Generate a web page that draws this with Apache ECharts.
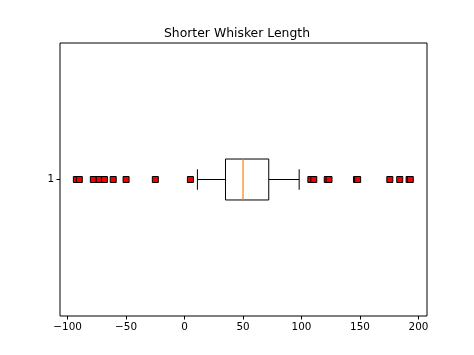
<!DOCTYPE html>
<html>
<head>
<meta charset="utf-8">
<script src="https://cdn.jsdelivr.net/npm/echarts@6/dist/echarts.min.js"></script>
<style>
  html, body { margin: 0; padding: 0; background: #fff; }
  #chart { width: 474px; height: 355px; }
</style>
</head>
<body>
<div id="chart"></div>
<script>
// categories and values
var categories = ["1"];
// [low whisker, Q1, median, Q3, high whisker]
var boxStats = [[11, 35, 50, 72, 98]];
var outliers = [-92.5, -90, -78, -73, -68.5, -61, -50, -25, 5,
                108, 110.5, 122, 123.5, 147, 148, 175.5, 184, 192, 193];
var xTicks = [-100, -50, 0, 50, 100, 150, 200];

var chart = echarts.init(document.getElementById("chart"));

var outlierData = outliers.map(function (v) { return [v, categories[0]]; });

var option = {
  animation: false,
  title: {
    text: "Shorter Whisker Length",
    left: "center",
    top: 23,
    textStyle: { fontFamily: "DejaVu Sans", fontSize: 12.4, fontWeight: "normal", color: "#000" }
  },
  grid: {
    left: 60, right: 47, top: 43, bottom: 39,
    show: true, borderColor: "#000", borderWidth: 1, backgroundColor: "#fff"
  },
  xAxis: {
    type: "value",
    min: -106.5,
    max: 207.3,
    splitLine: { show: false },
    axisLine: { show: false, onZero: false },
    axisTick: { show: true, length: 3.5, inside: false, lineStyle: { color: "#000" }, customValues: xTicks },
    axisLabel: {
      color: "#000", fontFamily: "DejaVu Sans", fontSize: 10.4, margin: 6,
      customValues: xTicks,
      formatter: function (v) { return v < 0 ? "\u2212" + Math.abs(v) : String(v); }
    }
  },
  yAxis: {
    type: "category",
    data: categories,
    position: "left",
    boundaryGap: true,
    axisLine: { show: false, onZero: false },
    axisTick: { show: true, alignWithLabel: true, length: 3.5, lineStyle: { color: "#000" } },
    axisLabel: { color: "#000", fontFamily: "DejaVu Sans", fontSize: 10.4, margin: 6 },
    splitLine: { show: false }
  },
  series: [
    {
      type: "custom",
      data: boxStats.map(function (s, i) { return [i].concat(s); }),
      renderItem: function (params, api) {
        var cat = categories[api.value(0)];
        var lo = api.coord([api.value(1), cat]);
        var q1 = api.coord([api.value(2), cat]);
        var med = api.coord([api.value(3), cat]);
        var q3 = api.coord([api.value(4), cat]);
        var hi = api.coord([api.value(5), cat]);
        var band = api.size([0, 1])[1];
        var h = band * 0.15;
        var cy = q1[1];
        var black = { stroke: "#000", lineWidth: 1, fill: null };
        return {
          type: "group",
          children: [
            { type: "rect", shape: { x: q1[0], y: cy - h / 2, width: q3[0] - q1[0], height: h }, style: { stroke: "#000", lineWidth: 1, fill: "none" } },
            { type: "line", shape: { x1: lo[0], y1: cy, x2: q1[0], y2: cy }, style: black },
            { type: "line", shape: { x1: q3[0], y1: cy, x2: hi[0], y2: cy }, style: black },
            { type: "line", shape: { x1: lo[0], y1: cy - h / 4, x2: lo[0], y2: cy + h / 4 }, style: black },
            { type: "line", shape: { x1: hi[0], y1: cy - h / 4, x2: hi[0], y2: cy + h / 4 }, style: black },
            { type: "line", shape: { x1: med[0], y1: cy - h / 2, x2: med[0], y2: cy + h / 2 }, style: { stroke: "#ff7f0e", lineWidth: 1.2 } }
          ]
        };
      }
    },
    {
      type: "scatter",
      data: outlierData,
      symbol: "rect",
      symbolSize: 6,
      itemStyle: { color: "#ee0000", borderColor: "#000", borderWidth: 1, opacity: 1 }
    }
  ]
};

chart.setOption(option);
</script>
</body>
</html>
